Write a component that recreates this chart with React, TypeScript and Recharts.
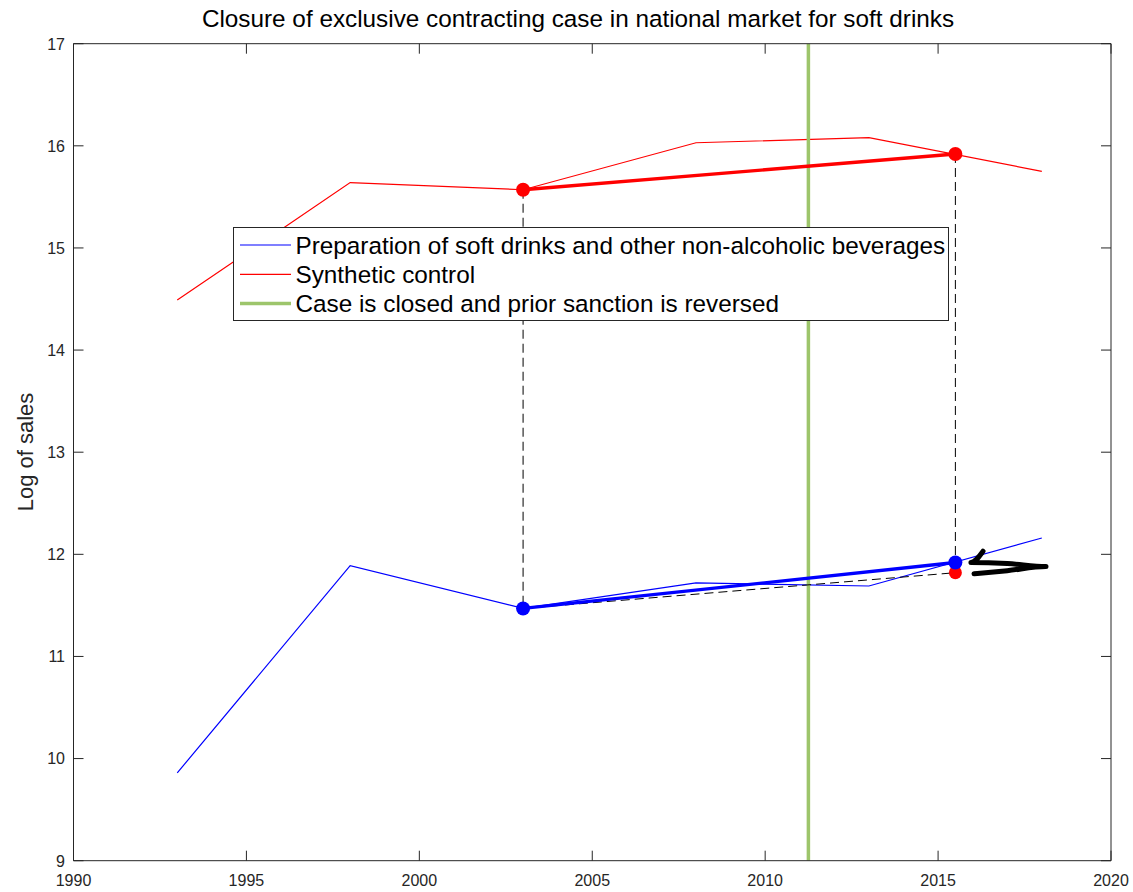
import { LineChart, Line, XAxis, YAxis, Customized } from 'recharts';

const years = [1993, 1998, 2003, 2008, 2013, 2018];
const treatedSales = [9.86, 11.89, 11.47, 11.72, 11.69, 12.16];
const syntheticSales = [14.49, 15.64, 15.57, 16.03, 16.08, 15.75];

// before / after comparison points
const preYear = 2003;
const postYear = 2015.5;
const treatedPre = 11.47;
const treatedPost = 11.92;
const syntheticPre = 15.57;
const syntheticPost = 15.92;
const counterfactualPost = 11.82;
const closureYear = 2011.25;

// hand drawn arrow pointing at the gap
const arrowX = [2016.3, 2015.95, 2017.0, 2018.12, 2017.0, 2016.04];
const arrowY = [12.03, 11.92, 11.91, 11.88, 11.84, 11.81];

const xTicks = [1990, 1995, 2000, 2005, 2010, 2015, 2020];
const yTicks = [9, 10, 11, 12, 13, 14, 15, 16, 17];

const title = 'Closure of exclusive contracting case in national market for soft drinks';
const yLabel = 'Log of sales';
const legendLabels = [
  'Preparation of soft drinks and other non-alcoholic beverages',
  'Synthetic control',
  'Case is closed and prior sanction is reversed',
];
const legendColors = ['#0000ff', '#ff0000', '#9dc56b'];
const legendWidths = [1.2, 1.2, 3.5];

const FONT = 'Liberation Sans, Arial, Helvetica, sans-serif';
const AXIS = '#262626';

const treated = years.map((x, i) => ({ x, y: treatedSales[i] }));
const synthetic = years.map((x, i) => ({ x, y: syntheticSales[i] }));
const treatedSeg = [{ x: preYear, y: treatedPre }, { x: postYear, y: treatedPost }];
const syntheticSeg = [{ x: preYear, y: syntheticPre }, { x: postYear, y: syntheticPost }];
const counterfactual = [{ x: preYear, y: treatedPre }, { x: postYear, y: counterfactualPost }];
const counterDot = [{ x: postYear, y: counterfactualPost }];
const preDrop = [{ x: preYear, y: syntheticPre }, { x: preYear, y: treatedPre }];
const postDrop = [{ x: postYear, y: syntheticPost }, { x: postYear, y: treatedPost }];
const closureLine = [{ x: closureYear, y: yTicks[0] }, { x: closureYear, y: yTicks[yTicks.length - 1] }];
const arrow = arrowX.map((x, i) => ({ x, y: arrowY[i] }));

const BottomTick = (props: any) => {
  const { x, y, payload } = props;
  return (
    <g>
      <line x1={x} x2={x} y1={y} y2={y - 10} stroke={AXIS} />
      <text x={x} y={y + 25.5} textAnchor="middle" fontSize={16} fill={AXIS}>{payload.value}</text>
    </g>
  );
};
const TopTick = (props: any) => {
  const { x, y } = props;
  return <line x1={x} x2={x} y1={y} y2={y + 10} stroke={AXIS} />;
};
const LeftTick = (props: any) => {
  const { x, y, payload } = props;
  return (
    <g>
      <line x1={x} x2={x + 10} y1={y} y2={y} stroke={AXIS} />
      <text x={x - 8.5} y={y + 5.8} textAnchor="end" fontSize={16} fill={AXIS}>{payload.value}</text>
    </g>
  );
};
const RightTick = (props: any) => {
  const { x, y } = props;
  return <line x1={x} x2={x - 10} y1={y} y2={y} stroke={AXIS} />;
};

const Labels = () => (
  <g style={{ fontFamily: FONT }}>
    <text x={578} y={27} textAnchor="middle" fontSize={24.3} fill="#000">{title}</text>
    <text transform="translate(33,452) rotate(-90)" textAnchor="middle" fontSize={22} fill={AXIS}>{yLabel}</text>
  </g>
);

// legend box sits above every line, like the matlab one
const LegendBox = () => (
  <svg width={718} height={96} style={{ position: 'absolute', left: 232, top: 226, fontFamily: FONT }}>
    <rect x={1.5} y={1.5} width={715} height={93} fill="#fff" stroke={AXIS} />
    {legendLabels.map((label, i) => {
      const rowY = 19 + i * 29.3;
      return (
        <g key={label}>
          <line x1={8} x2={59} y1={rowY} y2={rowY} stroke={legendColors[i]} strokeWidth={legendWidths[i]} />
          <text x={63.5} y={rowY + 8.5} fontSize={24.3} fill="#000">{label}</text>
        </g>
      );
    })}
  </svg>
);

export default function App() {
  return (
    <div style={{ position: 'absolute', left: 0, top: 0, width: 1133, height: 892, background: '#fff' }}>
      <LineChart width={1133} height={892} margin={{ top: 42.7, right: 21, bottom: 30.3, left: 72.5 }} style={{ fontFamily: FONT }}>
        <XAxis dataKey="x" type="number" domain={[1990, 2020]} ticks={xTicks} interval={0} height={1}
          tickSize={0} tickMargin={0} tickLine={false} tick={<BottomTick />} axisLine={{ stroke: AXIS }} allowDataOverflow />
        <XAxis xAxisId="top" orientation="top" dataKey="x" type="number" domain={[1990, 2020]} ticks={xTicks} interval={0} height={1}
          tickSize={0} tickMargin={0} tickLine={false} tick={<TopTick />} axisLine={{ stroke: AXIS }} allowDataOverflow />
        <YAxis dataKey="y" type="number" domain={[9, 17]} ticks={yTicks} interval={0} width={1}
          tickSize={0} tickMargin={0} tickLine={false} tick={<LeftTick />} axisLine={{ stroke: AXIS }} allowDataOverflow />
        <YAxis yAxisId="right" orientation="right" dataKey="y" type="number" domain={[9, 17]} ticks={yTicks} interval={0} width={1}
          tickSize={0} tickMargin={0} tickLine={false} tick={<RightTick />} axisLine={{ stroke: AXIS }} allowDataOverflow />

        <Line data={treated} dataKey="y" stroke="#0000ff" strokeWidth={1.2} dot={false} isAnimationActive={false} />
        <Line data={synthetic} dataKey="y" stroke="#ff0000" strokeWidth={1.2} dot={false} isAnimationActive={false} />
        <Line data={closureLine} dataKey="y" stroke="#9dc56b" strokeWidth={3.5} dot={false} isAnimationActive={false} />
        <Line data={preDrop} dataKey="y" stroke="#000" strokeWidth={1} strokeDasharray="9 5" dot={false} isAnimationActive={false} />
        <Line data={postDrop} dataKey="y" stroke="#000" strokeWidth={1} strokeDasharray="9 5" dot={false} isAnimationActive={false} />
        <Line data={counterfactual} dataKey="y" stroke="#000" strokeWidth={1} strokeDasharray="9 5" dot={false} isAnimationActive={false} />
        <Line data={counterDot} dataKey="y" stroke="none" dot={{ r: 6.5, fill: '#ff0000', stroke: '#ff0000', strokeWidth: 0 }} isAnimationActive={false} />
        <Line data={syntheticSeg} dataKey="y" stroke="#ff0000" strokeWidth={3.3} dot={{ r: 7, fill: '#ff0000', stroke: '#ff0000', strokeWidth: 0 }} isAnimationActive={false} />
        <Line data={treatedSeg} dataKey="y" stroke="#0000ff" strokeWidth={3.3} dot={{ r: 7, fill: '#0000ff', stroke: '#0000ff', strokeWidth: 0 }} isAnimationActive={false} />
        <Line data={arrow} dataKey="y" type="monotone" stroke="#000" strokeWidth={5} strokeLinecap="round" strokeLinejoin="round" dot={false} isAnimationActive={false} />
        <Customized component={Labels} />
      </LineChart>
      <LegendBox />
    </div>
  );
}
